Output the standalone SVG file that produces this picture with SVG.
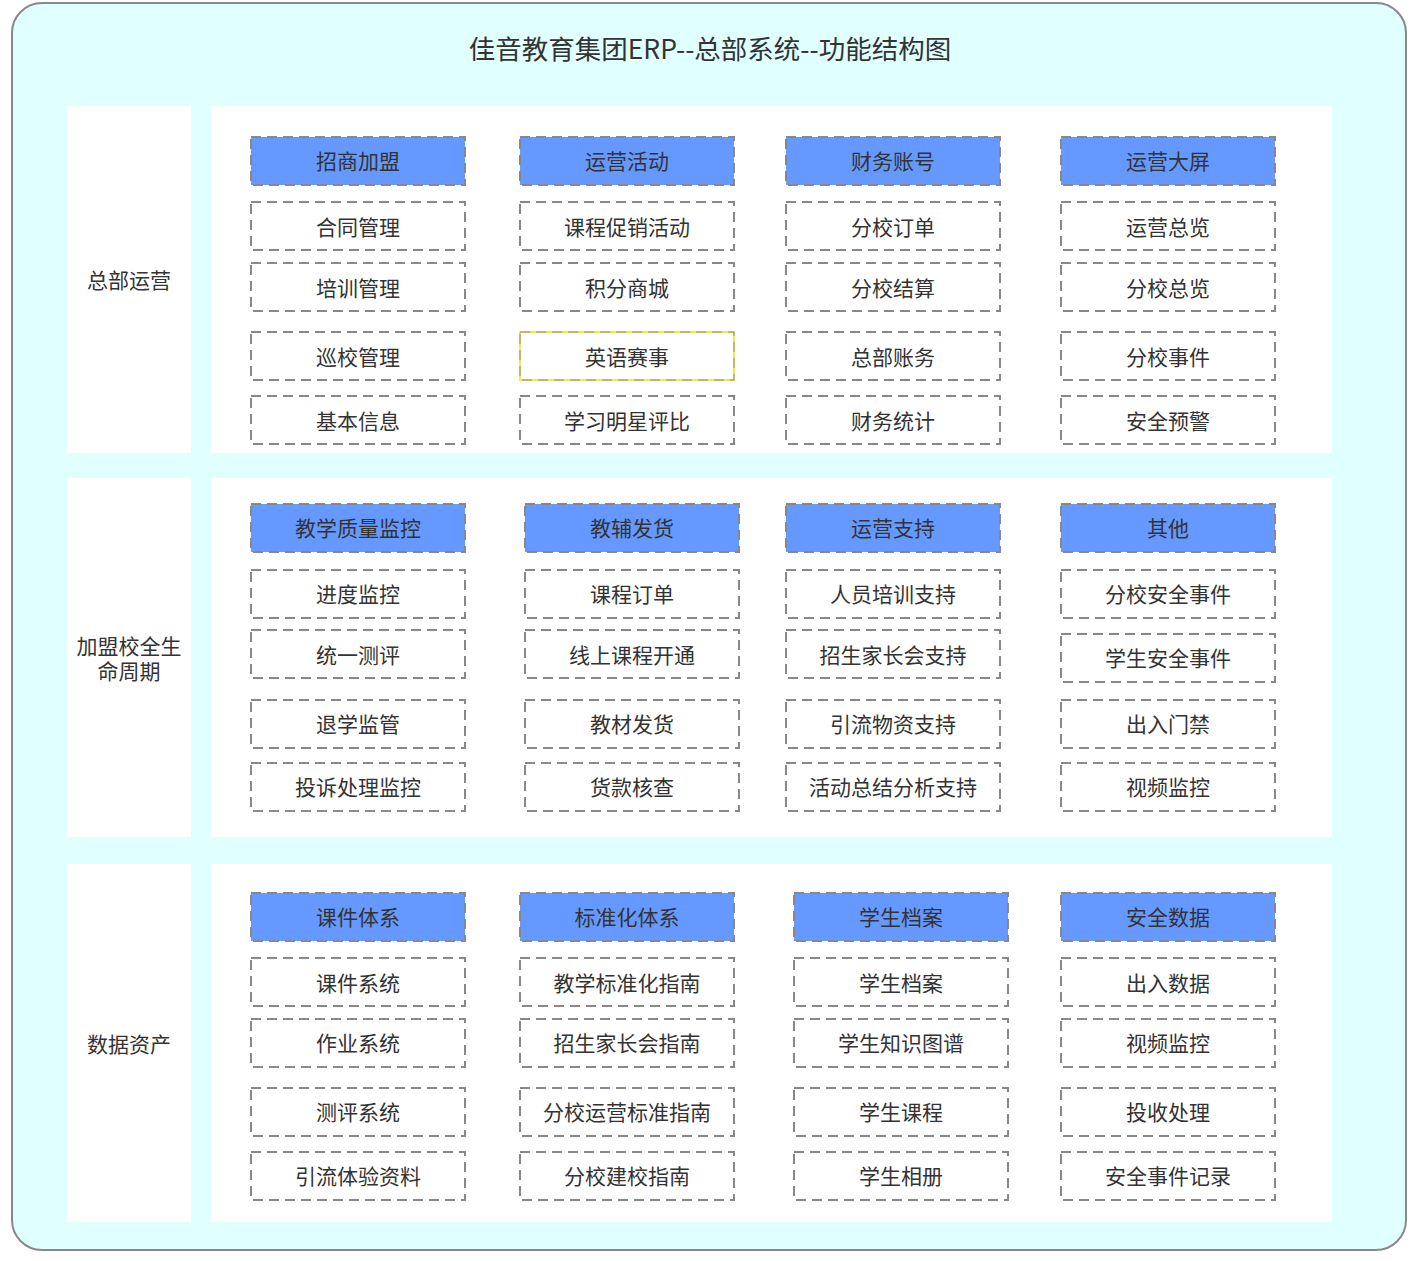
<svg xmlns="http://www.w3.org/2000/svg" width="1423" height="1261" viewBox="0 0 1423 1261">
<style>
text{font-family:"Noto Sans CJK SC","Liberation Sans",sans-serif;fill:#333;text-anchor:middle;dominant-baseline:central}
.t{font-size:21px}
.title{font-size:26.5px}
.lab{font-size:21px}
.panel{fill:#fff}
.h{fill:#6699FF;stroke:#888;stroke-width:2;stroke-dasharray:10 6}
.b{fill:#fff;stroke:#888;stroke-width:2;stroke-dasharray:10 6}
.y{fill:#fff;stroke:#F0E850;stroke-width:2}
</style>
<rect x="12" y="3" width="1394" height="1247" rx="30" fill="#E0FFFF" stroke="#888" stroke-width="2"/>
<text class="title" x="710" y="47">佳音教育集团ERP--总部系统--功能结构图</text>
<g id="connectors"/>
<g id="sec1">
<rect class="panel" x="67" y="106" width="124" height="347"/>
<rect class="panel" x="211" y="106" width="1121" height="347"/>
<text class="lab" x="129" y="279">总部运营</text>
</g>
<g id="sec2">
<rect class="panel" x="67" y="478" width="124" height="359"/>
<rect class="panel" x="211" y="478" width="1121" height="359"/>
<text class="lab" x="129" y="645"><tspan x="129" y="645">加盟校全生</tspan><tspan x="129" y="670">命周期</tspan></text>
</g>
<g id="sec3">
<rect class="panel" x="67" y="864" width="124" height="358"/>
<rect class="panel" x="211" y="864" width="1121" height="358"/>
<text class="lab" x="129" y="1043">数据资产</text>
</g>
<!-- Row 1 -->
<g id="r1c1">
<rect class="h" x="251" y="137" width="214" height="48"/><text class="t" x="358" y="160">招商加盟</text>
<rect class="b" x="251" y="202" width="214" height="48"/><text class="t" x="358" y="226">合同管理</text>
<rect class="b" x="251" y="263" width="214" height="48"/><text class="t" x="358" y="287">培训管理</text>
<rect class="b" x="251" y="332" width="214" height="48"/><text class="t" x="358" y="356">巡校管理</text>
<rect class="b" x="251" y="396" width="214" height="48"/><text class="t" x="358" y="420">基本信息</text>
</g>
<g id="r1c2">
<rect class="h" x="520" y="137" width="214" height="48"/><text class="t" x="627" y="160">运营活动</text>
<rect class="b" x="520" y="202" width="214" height="48"/><text class="t" x="627" y="226">课程促销活动</text>
<rect class="b" x="520" y="263" width="214" height="48"/><text class="t" x="627" y="287">积分商城</text>
<rect class="y" x="520" y="332" width="214" height="48"/><rect class="b" x="520" y="332" width="214" height="48" style="fill:none;stroke-width:1"/><text class="t" x="627" y="356">英语赛事</text>
<rect class="b" x="520" y="396" width="214" height="48"/><text class="t" x="627" y="420">学习明星评比</text>
</g>
<g id="r1c3">
<rect class="h" x="786" y="137" width="214" height="48"/><text class="t" x="893" y="160">财务账号</text>
<rect class="b" x="786" y="202" width="214" height="48"/><text class="t" x="893" y="226">分校订单</text>
<rect class="b" x="786" y="263" width="214" height="48"/><text class="t" x="893" y="287">分校结算</text>
<rect class="b" x="786" y="332" width="214" height="48"/><text class="t" x="893" y="356">总部账务</text>
<rect class="b" x="786" y="396" width="214" height="48"/><text class="t" x="893" y="420">财务统计</text>
</g>
<g id="r1c4">
<rect class="h" x="1061" y="137" width="214" height="48"/><text class="t" x="1168" y="160">运营大屏</text>
<rect class="b" x="1061" y="202" width="214" height="48"/><text class="t" x="1168" y="226">运营总览</text>
<rect class="b" x="1061" y="263" width="214" height="48"/><text class="t" x="1168" y="287">分校总览</text>
<rect class="b" x="1061" y="332" width="214" height="48"/><text class="t" x="1168" y="356">分校事件</text>
<rect class="b" x="1061" y="396" width="214" height="48"/><text class="t" x="1168" y="420">安全预警</text>
</g>
<!-- Row 2 -->
<g id="r2c1">
<rect class="h" x="251" y="504" width="214" height="48"/><text class="t" x="358" y="527">教学质量监控</text>
<rect class="b" x="251" y="570" width="214" height="48"/><text class="t" x="358" y="593">进度监控</text>
<rect class="b" x="251" y="630" width="214" height="48"/><text class="t" x="358" y="654">统一测评</text>
<rect class="b" x="251" y="700" width="214" height="48"/><text class="t" x="358" y="723">退学监管</text>
<rect class="b" x="251" y="763" width="214" height="48"/><text class="t" x="358" y="786">投诉处理监控</text>
</g>
<g id="r2c2">
<rect class="h" x="525" y="504" width="214" height="48"/><text class="t" x="632" y="527">教辅发货</text>
<rect class="b" x="525" y="570" width="214" height="48"/><text class="t" x="632" y="593">课程订单</text>
<rect class="b" x="525" y="630" width="214" height="48"/><text class="t" x="632" y="654">线上课程开通</text>
<rect class="b" x="525" y="700" width="214" height="48"/><text class="t" x="632" y="723">教材发货</text>
<rect class="b" x="525" y="763" width="214" height="48"/><text class="t" x="632" y="786">货款核查</text>
</g>
<g id="r2c3">
<rect class="h" x="786" y="504" width="214" height="48"/><text class="t" x="893" y="527">运营支持</text>
<rect class="b" x="786" y="570" width="214" height="48"/><text class="t" x="893" y="593">人员培训支持</text>
<rect class="b" x="786" y="630" width="214" height="48"/><text class="t" x="893" y="654">招生家长会支持</text>
<rect class="b" x="786" y="700" width="214" height="48"/><text class="t" x="893" y="723">引流物资支持</text>
<rect class="b" x="786" y="763" width="214" height="48"/><text class="t" x="893" y="786">活动总结分析支持</text>
</g>
<g id="r2c4">
<rect class="h" x="1061" y="504" width="214" height="48"/><text class="t" x="1168" y="527">其他</text>
<rect class="b" x="1061" y="570" width="214" height="48"/><text class="t" x="1168" y="593">分校安全事件</text>
<rect class="b" x="1061" y="634" width="214" height="48"/><text class="t" x="1168" y="657">学生安全事件</text>
<rect class="b" x="1061" y="700" width="214" height="48"/><text class="t" x="1168" y="723">出入门禁</text>
<rect class="b" x="1061" y="763" width="214" height="48"/><text class="t" x="1168" y="786">视频监控</text>
</g>
<!-- Row 3 -->
<g id="r3c1">
<rect class="h" x="251" y="893" width="214" height="48"/><text class="t" x="358" y="916">课件体系</text>
<rect class="b" x="251" y="958" width="214" height="48"/><text class="t" x="358" y="982">课件系统</text>
<rect class="b" x="251" y="1019" width="214" height="48"/><text class="t" x="358" y="1042">作业系统</text>
<rect class="b" x="251" y="1088" width="214" height="48"/><text class="t" x="358" y="1111">测评系统</text>
<rect class="b" x="251" y="1152" width="214" height="48"/><text class="t" x="358" y="1175">引流体验资料</text>
</g>
<g id="r3c2">
<rect class="h" x="520" y="893" width="214" height="48"/><text class="t" x="627" y="916">标准化体系</text>
<rect class="b" x="520" y="958" width="214" height="48"/><text class="t" x="627" y="982">教学标准化指南</text>
<rect class="b" x="520" y="1019" width="214" height="48"/><text class="t" x="627" y="1042">招生家长会指南</text>
<rect class="b" x="520" y="1088" width="214" height="48"/><text class="t" x="627" y="1111">分校运营标准指南</text>
<rect class="b" x="520" y="1152" width="214" height="48"/><text class="t" x="627" y="1175">分校建校指南</text>
</g>
<g id="r3c3">
<rect class="h" x="794" y="893" width="214" height="48"/><text class="t" x="901" y="916">学生档案</text>
<rect class="b" x="794" y="958" width="214" height="48"/><text class="t" x="901" y="982">学生档案</text>
<rect class="b" x="794" y="1019" width="214" height="48"/><text class="t" x="901" y="1042">学生知识图谱</text>
<rect class="b" x="794" y="1088" width="214" height="48"/><text class="t" x="901" y="1111">学生课程</text>
<rect class="b" x="794" y="1152" width="214" height="48"/><text class="t" x="901" y="1175">学生相册</text>
</g>
<g id="r3c4">
<rect class="h" x="1061" y="893" width="214" height="48"/><text class="t" x="1168" y="916">安全数据</text>
<rect class="b" x="1061" y="958" width="214" height="48"/><text class="t" x="1168" y="982">出入数据</text>
<rect class="b" x="1061" y="1019" width="214" height="48"/><text class="t" x="1168" y="1042">视频监控</text>
<rect class="b" x="1061" y="1088" width="214" height="48"/><text class="t" x="1168" y="1111">投收处理</text>
<rect class="b" x="1061" y="1152" width="214" height="48"/><text class="t" x="1168" y="1175">安全事件记录</text>
</g>
</svg>
